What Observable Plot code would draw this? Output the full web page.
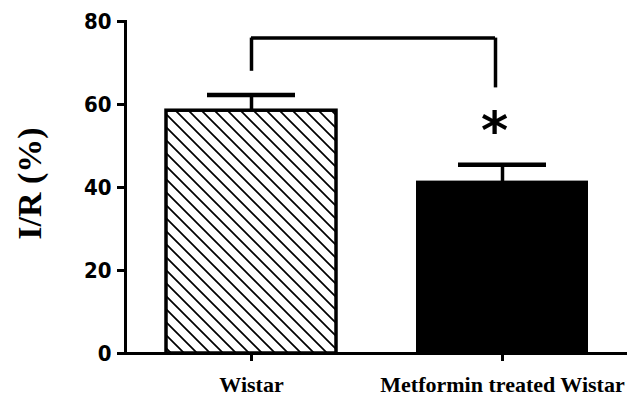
<!DOCTYPE html>
<html>
<head>
<meta charset="utf-8">
<script src="https://cdn.jsdelivr.net/npm/d3@7"></script>
<script src="https://cdn.jsdelivr.net/npm/@observablehq/plot@0.6"></script>
<style>
  html, body { margin: 0; padding: 0; background: #fff; }
  #chart svg { display: block; }
  #chart [aria-label="y-axis tick"], #chart [aria-label="x-axis tick"] { stroke-width: 3px; }
</style>
</head>
<body>
<div id="chart"></div>
<script>
// Infarct size relative to area at risk, mean ± SEM
const groups = ["Wistar", "Metformin treated Wistar"];
const means = [58.5, 41.3];
const sems = [3.8, 4.2];
const yTicks = [0, 20, 40, 60, 80];

// Significance bracket: top level and the two leg ends (in % units)
const bracketTop = 76;
const bracketEnds = [68, 64];
const starY = 53.5;

const rows = groups.map((g, i) => ({group: g, mean: means[i], sem: sems[i], end: bracketEnds[i]}));

const serif = "'Liberation Serif', 'DejaVu Serif', serif";
const narrow = "'Liberation Sans Narrow', 'DejaVu Sans Condensed', 'Liberation Sans', sans-serif";

const chart = Plot.plot({
  width: 637,
  height: 403,
  marginLeft: 125,
  marginRight: 10,
  marginTop: 21,
  marginBottom: 50,
  style: {background: "#fff"},
  x: {domain: groups, paddingInner: 0.323, paddingOuter: 0.159, label: null},
  y: {domain: [0, 80], label: null},
  marks: [
    // hatched control bar and solid treated bar
    Plot.barY(rows.filter(d => d.group === groups[0]), {x: "group", y: "mean", fill: "url(#diagHatch)", stroke: "#000", strokeWidth: 3.5}),
    Plot.barY(rows.filter(d => d.group === groups[1]), {x: "group", y: "mean", fill: "#000", stroke: "#000", strokeWidth: 2}),
    // error bars (upper half only)
    Plot.ruleX(rows, {x: "group", y1: "mean", y2: d => d.mean + d.sem, stroke: "#000", strokeWidth: 3.5}),
    Plot.tickY(rows, {x: "group", y: d => d.mean + d.sem, stroke: "#000", strokeWidth: 4.5, insetLeft: 41, insetRight: 41}),
    // axes
    Plot.ruleY([0], {stroke: "#000", strokeWidth: 3}),
    Plot.frame({anchor: "left", stroke: "#000", strokeWidth: 3}),
    Plot.axisY({ticks: yTicks, tickSize: 8, tickPadding: 6, strokeWidth: 3, fontSize: 22, fontWeight: "bold", fontFamily: narrow, fill: "#000"}),
    Plot.axisX({tickSize: 8, tickPadding: 15, strokeWidth: 3, fontSize: 22, fontWeight: "bold", fontFamily: serif, fill: "#000"}),
    Plot.text(["I/R (%)"], {frameAnchor: "left", textAnchor: "middle", dx: -95, dy: -4, rotate: -90, fontSize: 34, fontWeight: "bold", fontFamily: serif, fill: "#000"}),
    // significance bracket
    Plot.ruleX(rows.slice(0, 1), {x: "group", y1: "end", y2: bracketTop, stroke: "#000", strokeWidth: 3.5}),
    Plot.ruleX(rows.slice(1), {x: "group", y1: "end", y2: bracketTop, dx: -7, stroke: "#000", strokeWidth: 3.5}),
    Plot.ruleY([bracketTop], {x1: () => groups[0], x2: () => groups[1], insetLeft: 85, insetRight: 92, stroke: "#000", strokeWidth: 3.5}),
    Plot.text(rows.slice(1), {x: "group", y: starY, text: () => "*", dx: -8, fontSize: 52, fontWeight: "bold", fontFamily: "'DejaVu Sans', sans-serif", fill: "#000"})
  ]
});

// diagonal hatch pattern used by the control bar
const defs = d3.select(chart).insert("defs", ":first-child");
const pat = defs.append("pattern")
  .attr("id", "diagHatch")
  .attr("patternUnits", "userSpaceOnUse")
  .attr("width", 13)
  .attr("height", 13);
pat.append("rect").attr("width", 13).attr("height", 13).attr("fill", "#fff");
pat.append("path")
  .attr("d", "M-3,-3L16,16M-3,10L3,16M10,-3L16,3")
  .attr("stroke", "#000")
  .attr("stroke-width", 1.7);

document.getElementById("chart").append(chart);
</script>
</body>
</html>
